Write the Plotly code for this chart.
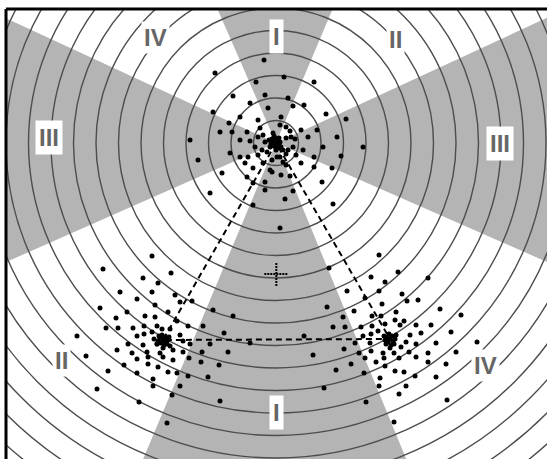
import math
import plotly.graph_objects as go

# --- observations around three sites (units: same as the ring spacing grid) ---
top_x = [-12, -61, -20, -43, -11, -63, -26, -8, -36, -18, -47, -56, -44, -29, -86, -36, -26, -18, -13, -7,
         -21, -46, -36, -28, -78, -18, -9, -54, -31, -23, -13, -4, -11, -29, -23, -66, -11, -23,
         8, 38, 12, 17, 28, 50, 70, 5, 10, 14, 25, 32, 41, 61, 87, 10, 15, 19, 47, 27, 17, 12, 4, 10,
         20, 38, 65, 25, 7, 10, 38, 56, 5, 14, 46, 17, 9, 57, 4,
         -4, -3, -11, 7, -14, 1, -6, 4, -16,
         0, -3, 3, -2, 2, -5, 4, -1, 1, -4, 5, -6, 0, -2, 3]
top_y = [83, 70, 61, 47, 48, 31, 40, 35, 26, 23, 20, 11, 11, 11, 3, 3, 2, 6, 8, 3,
         -4, -10, -14, -14, -17, -12, -9, -30, -20, -25, -20, -17, -39, -34, -40, -50, -47, -62,
         66, 61, 45, 37, 38, 29, 24, 26, 16, 12, 13, 6, 13, 6, -4, 5, 6, 4, -4, -7, -4, -7, -14, -11,
         -12, -14, -13, -20, -19, -22, -24, -25, -32, -33, -39, -48, -56, -61, -85,
         -29, 10, 1, -7, -7, -14, -27, 18, 15,
         0, 2, -2, -3, 3, -1, 1, 5, -5, 4, -4, -4, -7, 7, 5]

left_x = [-124, -173, -105, -133, -118, -156, -124, -101, -139, -96, -84, -121, -176, -149, -108, -63, -43,
          -131, -121, -160, -99, -73, -88, -119, -170, -158, -143, -132, -114, -106, -96, -199, -139, -132,
          -124, -93, -122, -148, -133, -119, -106, -86, -52, -66, -26, -159, -144, -129, -116, -103, -93,
          -74, -48, -190, -139, -128, -113, -103, -87, -75, -57, -152, -128, -118, -168, -139, -108, -99,
          -88, -68, -123, -123, -96, -179, -104, -137, -56, -109,
          -113, -116, -110, -115, -111, -118, -108, -114, -112, -117, -109, -119, -107, -113]
left_y = [-113, -126, -130, -135, -140, -149, -149, -152, -156, -159, -158, -162, -165, -169, -169, -167, -173,
          -173, -174, -175, -178, -183, -183, -183, -185, -185, -185, -183, -186, -186, -192, -193, -193, -191,
          -189, -198, -196, -201, -202, -201, -203, -201, -190, -201, -200, -207, -210, -209, -210, -207, -209,
          -209, -209, -213, -216, -214, -214, -217, -215, -219, -222, -222, -221, -224, -228, -230, -229, -230,
          -233, -234, -236, -243, -243, -246, -252, -259, -258, -280,
          -197, -195, -199, -200, -194, -198, -197, -192, -202, -193, -201, -201, -194, -205]

right_x = [103, 53, 122, 152, 95, 109, 71, 103, 126, 89, 131, 142, 106, 51, 164, 78, 120, 185, 67, 96, 105,
           119, 128, 57, 69, 85, 96, 109, 124, 140, 155, 102, 134, 145, 175, 28, 87, 95, 79, 94, 130, 140,
           160, 201, 68, 83, 95, 107, 118, 125, 133, 152, 180, 37, 89, 108, 123, 140, 75, 100, 109, 152,
           170, 60, 88, 104, 119, 128, 139, 160, 48, 103, 130, 123, 90, 171, 118,
           114, 111, 117, 112, 116, 109, 119, 113, 115, 110, 118, 108, 120, 114]
right_y = [-112, -125, -129, -135, -134, -139, -148, -148, -151, -155, -158, -157, -161, -164, -166, -168,
           -169, -172, -174, -173, -173, -177, -178, -184, -184, -184, -183, -181, -182, -182, -182, -188,
           -192, -190, -189, -193, -193, -191, -200, -200, -199, -201, -200, -199, -206, -210, -208, -210,
           -210, -204, -209, -210, -209, -212, -215, -215, -215, -214, -221, -219, -223, -219, -221, -227,
           -230, -235, -228, -229, -233, -234, -245, -243, -243, -251, -259, -257, -279,
           -196, -194, -198, -199, -193, -197, -196, -191, -202, -201, -201, -193, -192, -205]

# site positions (vertices of the dashed triangle)
site_x = [0, -113, 114]
site_y = [0, -197, -196]

# sector labels: top, upper right, right, lower right, bottom, lower left, left, upper left
label_text = ["I", "II", "III", "IV", "I", "II", "III", "IV"]
label_x = [0, 119, 224, 209, 0, -215, -227, -121]
label_y = [107, 104, 0, -222, -269, -217, 6, 106]
label_boxed = [True, False, True, False, True, False, True, False]

RING_STEP = 22.5
N_RINGS = 19
GRAY = "#b4b4b4"
RING_COLOR = "#4d4d4d"

# shaded sectors: (start, end) angle in degrees, counter-clockwise from +x
sectors = [(-23.7, 24.8), (67.1, 113.6), (155.2, 203.8), (247.2, 292.4)]

fig = go.Figure()
shapes = []

R_BIG = 1200
for a0, a1 in sectors:
    pts = ["M 0,0"]
    n = 12
    for i in range(n + 1):
        a = math.radians(a0 + (a1 - a0) * i / n)
        pts.append(f"L {R_BIG*math.cos(a):.2f},{R_BIG*math.sin(a):.2f}")
    pts.append("Z")
    shapes.append(dict(type="path", path=" ".join(pts), xref="x", yref="y",
                       fillcolor=GRAY, line=dict(width=0), layer="below"))

for k in range(1, N_RINGS + 1):
    r = RING_STEP * k
    shapes.append(dict(type="circle", xref="x", yref="y", x0=-r, x1=r, y0=-r, y1=r,
                       line=dict(color=RING_COLOR, width=1.4), layer="below"))

# frame (left and top edges)
shapes.append(dict(type="line", xref="paper", yref="paper", x0=0, x1=0, y0=-0.05, y1=1.0,
                   line=dict(color="black", width=3)))
shapes.append(dict(type="line", xref="paper", yref="paper", x0=0, x1=1.05, y0=1, y1=1,
                   line=dict(color="black", width=3)))

# dashed triangle joining the sites
fig.add_trace(go.Scatter(x=site_x + [site_x[0]], y=site_y + [site_y[0]], mode="lines",
                         line=dict(color="black", width=2, dash="6px,4px"),
                         hoverinfo="skip", showlegend=False))

# observations
for xs, ys in [(top_x, top_y), (left_x, left_y), (right_x, right_y)]:
    fig.add_trace(go.Scatter(x=xs, y=ys, mode="markers",
                             marker=dict(color="black", size=5, line=dict(width=0)),
                             showlegend=False))

# centroid cross
cx = sum(site_x) / 3
cy = sum(site_y) / 3
h = 12
fig.add_trace(go.Scatter(x=[cx - h, cx + h, None, cx, cx], y=[cy, cy, None, cy - h, cy + h],
                         mode="lines", line=dict(color="black", width=2, dash="2px,1px"),
                         hoverinfo="skip", showlegend=False))

annotations = []
for t, x, y, boxed in zip(label_text, label_x, label_y, label_boxed):
    annotations.append(dict(
        x=x, y=y, xref="x", yref="y", text=f"<b>{t}</b>", showarrow=False,
        font=dict(family="Liberation Sans Narrow, Arial Narrow, Liberation Sans, Arial, sans-serif",
                  size=24, color="#666666"),
        bgcolor="white", borderpad=3 if boxed else 2,
        xanchor="center", yanchor="middle"))

fig.update_layout(
    width=547, height=459,
    margin=dict(l=6, r=0, t=9, b=0),
    paper_bgcolor="white", plot_bgcolor="white",
    xaxis=dict(range=[-270, 271], visible=False, fixedrange=True),
    yaxis=dict(range=[-316, 134], visible=False, fixedrange=True),
    shapes=shapes, annotations=annotations, showlegend=False,
)

fig.write_html("out.html")
